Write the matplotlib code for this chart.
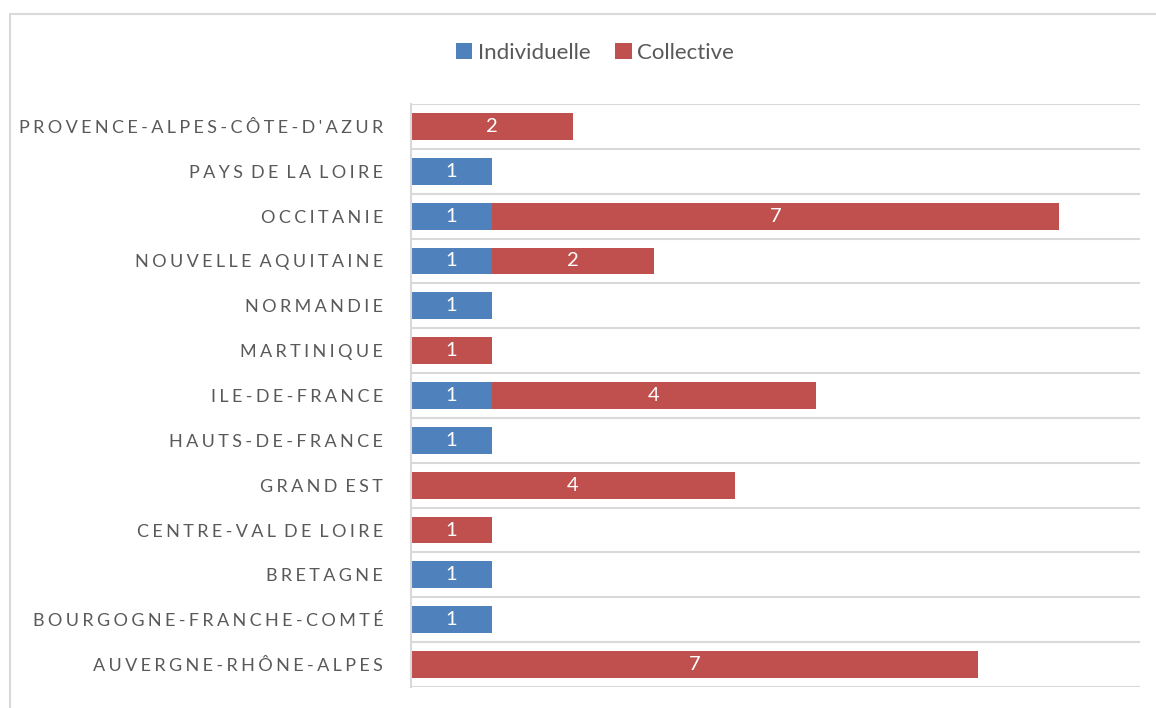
import matplotlib.pyplot as plt
from matplotlib.patches import Rectangle
import numpy as np

regions = ["AUVERGNE-RHÔNE-ALPES", "BOURGOGNE-FRANCHE-COMTÉ", "BRETAGNE",
           "CENTRE-VAL DE LOIRE", "GRAND EST", "HAUTS-DE-FRANCE", "ILE-DE-FRANCE",
           "MARTINIQUE", "NORMANDIE", "NOUVELLE AQUITAINE", "OCCITANIE",
           "PAYS DE LA LOIRE", "PROVENCE-ALPES-CÔTE-D'AZUR"]
individuelle = [0, 1, 1, 0, 0, 1, 1, 0, 1, 1, 1, 1, 0]
collective = [7, 0, 0, 1, 4, 0, 4, 1, 0, 2, 7, 0, 2]

blue = '#4F81BD'
red = '#C0504D'
grey_txt = '#595959'

plt.rcParams['font.family'] = ['Lato', 'DejaVu Sans']

fig = plt.figure(figsize=(11.56, 7.08), dpi=100)
ax = fig.add_axes([411/1156, 1-687/708, (1140-411)/1156, (687-104)/708])

# cadre du graphique
fig.patches.append(Rectangle((10/1156, -0.02), 1.1, 1-14/708+0.02, transform=fig.transFigure,
                             fill=False, edgecolor='#d9d9d9', linewidth=1.5))

y = np.arange(len(regions))
b1 = ax.barh(y, individuelle, height=0.6, color=blue, label='Individuelle')
b2 = ax.barh(y, collective, left=individuelle, height=0.6, color=red, label='Collective')

for bars in (b1, b2):
    for rect in bars:
        w = rect.get_width()
        if w > 0:
            ax.text(rect.get_x() + w/2, rect.get_y() + rect.get_height()/2, str(int(w)),
                    ha='center', va='center', color='white', fontsize=14.5)

ax.set_xlim(0, 9)
ax.set_ylim(-0.5, len(regions) - 0.5)
for g in np.arange(-0.5, len(regions), 1.0):
    ax.axhline(g, color='#d9d9d9', linewidth=1.5, zorder=0)

# étiquettes espacées comme dans Excel
sep = '\u2009\u200a'
spaced = [sep.join(list(r)).replace(sep + ' ' + sep, sep + ' ') for r in regions]
ax.set_yticks(y)
ax.set_yticklabels(spaced, fontsize=13, color=grey_txt)
ax.tick_params(axis='y', length=0, pad=20)
ax.set_xticks([])
for s in ['top', 'right', 'bottom']:
    ax.spines[s].set_visible(False)
ax.spines['left'].set_color('#d9d9d9')
ax.spines['left'].set_linewidth(1.5)

fig.legend(handles=[b1, b2], loc='center', bbox_to_anchor=(595/1156, 1-53/708), ncol=2,
           frameon=False, fontsize=16, labelcolor=grey_txt, handlelength=0.75, handleheight=0.75,
           handletextpad=0.25, columnspacing=1.1)

plt.savefig('out.png', dpi=100)
